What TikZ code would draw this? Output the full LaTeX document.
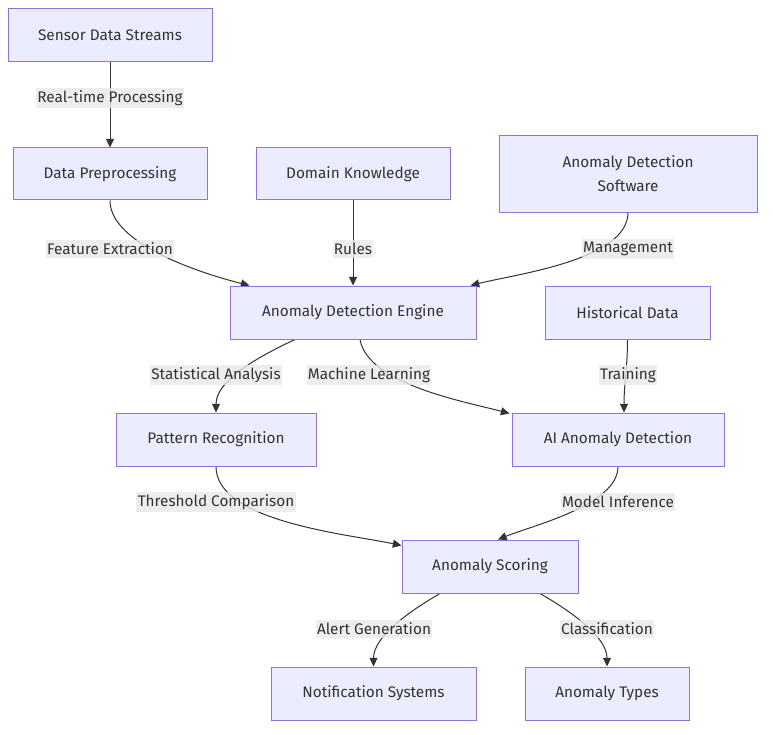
\documentclass[tikz,border=0pt]{standalone}
\usepackage{fontspec}
\setmainfont{Fira Sans}
\usepackage{xcolor}
\usetikzlibrary{arrows.meta}
\usetikzlibrary{backgrounds}
\usetikzlibrary{calc}

\definecolor{boxfill}{HTML}{ECECFF}
\definecolor{boxline}{HTML}{9370DB}
\definecolor{lblfill}{HTML}{E8E8E8}
\definecolor{ink}{HTML}{333333}

\begin{document}
\begin{tikzpicture}[x=0.75pt,y=0.75pt,
        box/.style={draw=boxline,fill=boxfill,line width=0.75pt,text=ink,
            font=\fontsize{11.5}{18}\selectfont,align=center,inner sep=0pt},
        lbl/.style={fill=lblfill,fill opacity=0.8,text opacity=1,text=ink,
            font=\fontsize{11.5}{14}\selectfont,inner xsep=1pt,inner ysep=2pt},
        edge/.style={draw=ink,line width=0.75pt,
            -{Triangle[length=6.5pt,width=6pt]}}]
        \useasboundingbox (0,0) rectangle (773,-734);

        % boxes (sizes in px)
        \foreach \n/\x/\y/\w/\h/\t in {
            sds/110/35.5/204/53/Sensor Data Streams,
            dp/110/174/194/52/Data Preprocessing,
            dk/353/174/194/52/Domain Knowledge,
            eng/353/312.5/246/53/Anomaly Detection Engine,
            hd/627.5/312.5/165/53/Historical Data,
            pr/216/439.5/200/53/Pattern Recognition,
            ai/618/439.5/212/53/AI Anomaly Detection,
            sc/490/566.5/176/53/Anomaly Scoring,
            ns/373.5/693.5/205/53/Notification Systems,
            at/607/693.5/164/53/Anomaly Types} {
            \node[box,minimum width={\w*0.75pt},minimum height={\h*0.75pt}]
                (\n) at (\x,-\y) {\t};
        }
        \node[box,minimum width={258*0.75pt},minimum height={76*0.75pt}] (ads)
            at (628,-174) {Anomaly Detection\\Software};

        % edge labels
        \node[lbl] (l1) at (110,-98) {Real-time Processing};
        \node[lbl] (l2) at (110,-249) {Feature Extraction};
        \node[lbl] (l3) at (353,-249) {Rules};
        \node[lbl] (l4) at (628,-249) {Management};
        \node[lbl] (l5) at (216,-375) {Statistical Analysis};
        \node[lbl] (l6) at (369,-375) {Machine Learning};
        \node[lbl] (l7) at (628,-375) {Training};
        \node[lbl] (l8) at (216,-502) {Threshold Comparison};
        \node[lbl] (l9) at (618,-502) {Model Inference};
        \node[lbl] (l10) at (374,-629) {Alert Generation};
        \node[lbl] (l11) at (607,-629) {Classification};

        % connectors
        \begin{scope}[on background layer]
            \draw[edge] (sds.south) -- (dp.north);
            \draw[edge] (dp.south) to[out=-90,in=166,looseness=0.7] ($(eng.north west)+(20,0)$);
            \draw[edge] (dk.south) -- (eng.north);
            \draw[edge] (ads.south) to[out=-90,in=14,looseness=0.7] ($(eng.north east)+(-6,0)$);
            \draw[edge] ($(eng.south)+(-58,0)$) to[out=-155,in=90,looseness=0.8] (pr.north);
            \draw[edge] ($(eng.south)+(7,0)$) to[out=-80,in=165,looseness=0.7] ($(ai.north west)+(-2,-1)$);
            \draw[edge] (hd.south) to[out=-90,in=90] ($(ai.north)+(6,0)$);
            \draw[edge] (pr.south) to[out=-90,in=168,looseness=0.7] ($(sc.north west)+(0,-6)$);
            \draw[edge] (ai.south) to[out=-90,in=22,looseness=0.7] ($(sc.north)+(8,0)$);
            \draw[edge] ($(sc.south)+(-50,0)$) to[out=-150,in=90,looseness=0.8] (ns.north);
            \draw[edge] ($(sc.south)+(50,0)$) to[out=-30,in=90,looseness=0.8] (at.north);
        \end{scope}
    \end{tikzpicture}
\end{document}
